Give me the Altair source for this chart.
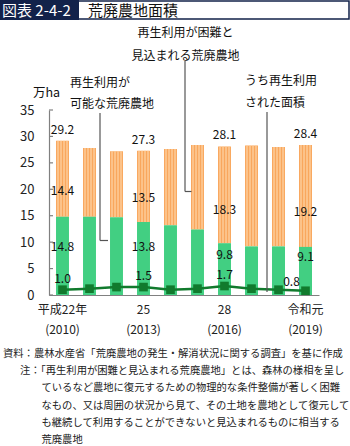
import altair as alt
import pandas as pd

# ---- data ----
years = [2010, 2011, 2012, 2013, 2014, 2015, 2016, 2017, 2018, 2019]
possible = [14.8, 14.8, 14.7, 13.8, 13.2, 12.4, 9.8, 9.2, 9.2, 9.1]      # 再生利用が可能な荒廃農地
hard = [14.4, 13.0, 12.5, 13.5, 14.4, 16.0, 18.3, 19.1, 18.8, 19.2]      # 再生利用が困難と見込まれる荒廃農地
totals = [29.2, 27.8, 27.2, 27.3, 27.6, 28.4, 28.1, 28.3, 28.0, 28.4]
reused = [1.0, 1.2, 1.5, 1.5, 1.0, 1.2, 1.7, 1.2, 1.0, 0.8]              # うち再生利用された面積
label_years = [2010, 2013, 2016, 2019]
era_labels = ["平成22年", "25", "28", "令和元"]
ad_labels = ["(2010)", "(2013)", "(2016)", "(2019)"]
y_ticks = [0, 5, 10, 15, 20, 25, 30, 35]

notes = [
    "資料：農林水産省「荒廃農地の発生・解消状況に関する調査」を基に作成",
    "注：「再生利用が困難と見込まれる荒廃農地」とは、森林の様相を呈し",
    "ているなど農地に復元するための物理的な条件整備が著しく困難",
    "なもの、又は周囲の状況から見て、その土地を農地として復元して",
    "も継続して利用することができないと見込まれるものに相当する",
    "荒廃農地",
]

FONT = "Noto Sans CJK JP"
ORANGE = "#F9A75D"
STRIPE = "#FDD2A2"
GREEN = "#42CF82"
DKGREEN = "#117A2D"
NAVY = "#12224A"
AXIS = "#808080"

df = pd.DataFrame({"year": years, "possible": possible, "hard": hard,
                   "total": totals, "reused": reused})
df["hard_lab"] = df["possible"] + df["hard"] * 0.34
df["pos_lab"] = (df["possible"] * 0.78).clip(upper=9.1)
lab = df[df["year"].isin(label_years)]

# x axis label expression built from arrays
expr = "''"
for yv, e, a in zip(reversed(label_years), reversed(era_labels), reversed(ad_labels)):
    expr = f"datum.value == {yv} ? ['{e}', '{a}'] : ({expr})"

xscale = alt.Scale(paddingInner=0.52, paddingOuter=0.26)
yscale = alt.Scale(domain=[0, 35], nice=False)

Xax = alt.Axis(values=label_years, labelExpr=expr, title=None, labelAngle=0,
               tickSize=0, labelPadding=9, labelFontSize=12, labelLineHeight=20,
               labelFont=FONT, labelColor="#222", domainColor=AXIS, domainWidth=1.2)
Yax = alt.Axis(values=y_ticks, title=None, tickSize=0, labelPadding=15, labelFontSize=13,
               labelFont=FONT, labelColor="#222", domainColor=AXIS, domainWidth=1.2,
               grid=False, labelOverlap=False, labelFlush=False)

def X():
    return alt.X("year:O", scale=xscale, axis=Xax)

def Y(f):
    return alt.Y(f, scale=yscale, axis=Yax)

base = alt.Chart(df)

orange = base.mark_bar(color=ORANGE).encode(x=X(), y=Y("possible:Q"), y2="total:Q")
stripes = [base.mark_bar(color=STRIPE, width=1.3, xOffset=o).encode(
    x=X(), y=Y("possible:Q"), y2="total:Q") for o in (-4.5, -1.5, 1.5, 4.5)]
green = base.mark_bar(color=GREEN).encode(x=X(), y=Y("possible:Q"))

line = base.mark_line(color=DKGREEN, strokeWidth=2.5).encode(x=X(), y=Y("reused:Q"))
pts = base.mark_square(color=DKGREEN, size=75, opacity=1).encode(x=X(), y=Y("reused:Q"))

tstyle = dict(font=FONT, fontSize=12, color="#111")
tot_lab = alt.Chart(lab).mark_text(dy=-11, **tstyle).encode(
    x=X(), y=Y("total:Q"), text=alt.Text("total:Q", format=".1f"))
hard_lab = alt.Chart(lab).mark_text(**tstyle).encode(
    x=X(), y=Y("hard_lab:Q"), text=alt.Text("hard:Q", format=".1f"))
pos_lab = alt.Chart(lab).mark_text(**tstyle).encode(
    x=X(), y=Y("pos_lab:Q"), text=alt.Text("possible:Q", format=".1f"))
re_lab1 = alt.Chart(lab[lab["year"] != 2019]).mark_text(dy=-11, **tstyle).encode(
    x=X(), y=Y("reused:Q"), text=alt.Text("reused:Q", format=".1f"))
re_lab2 = alt.Chart(lab[lab["year"] == 2019]).mark_text(dy=-9, dx=-14, **tstyle).encode(
    x=X(), y=Y("reused:Q"), text=alt.Text("reused:Q", format=".1f"))

ticks = alt.Chart(pd.DataFrame({"t": y_ticks})).mark_rule(color=AXIS, strokeWidth=1.2).encode(
    y=Y("t:Q"), x=alt.value(0), x2=alt.value(4))

one = pd.DataFrame({"a": [0]})
dummy = alt.Chart(one)

def rule(x1, y1, x2, y2, color="#555", w=1.2):
    return dummy.mark_rule(color=color, strokeWidth=w).encode(
        x=alt.value(x1), y=alt.value(y1), x2=alt.value(x2), y2=alt.value(y2))

def text(s, x, y, size=12, align="left", color="#111", weight="normal"):
    return dummy.mark_text(text=s, font=FONT, fontSize=size, align=align,
                           baseline="middle", color=color, fontWeight=weight).encode(
        x=alt.value(x), y=alt.value(y))

OX, OY = 49, 110  # plot origin in page pixels

leaders = [
    rule(100 - OX, 113 - OY, 100 - OX, 240.5 - OY),
    rule(100 - OX, 240.5 - OY, 108 - OX, 240.5 - OY),
    rule(185 - OX, 61 - OY, 185 - OX, 191.5 - OY),
    rule(185 - OX, 191.5 - OY, 191.5 - OX, 191.5 - OY),
    rule(267 - OX, 112 - OY, 267 - OX, 292 - OY),
]

annots = [
    text("再生利用が困難と", 185.5 - OX, 33 - OY, align="center"),
    text("見込まれる荒廃農地", 185.5 - OX, 56 - OY, align="center"),
    text("再生利用が", 70 - OX, 82.5 - OY),
    text("可能な荒廃農地", 70 - OX, 103.5 - OY),
    text("うち再生利用", 245 - OX, 81 - OY),
    text("された面積", 245 - OX, 103 - OY),
    text("万ha", 33 - OX, 93 - OY, size=12.5),
]

# title bar
title_layers = [
    dummy.mark_rect(color="white", stroke=NAVY, strokeWidth=1.5).encode(
        x=alt.value(78 - OX), x2=alt.value(349 - OX), y=alt.value(1 - OY), y2=alt.value(19 - OY)),
    dummy.mark_rect(color=NAVY).encode(
        x=alt.value(0 - OX), x2=alt.value(79 - OX), y=alt.value(0 - OY), y2=alt.value(20 - OY)),
    text("図表 2-4-2", 2 - OX, 11 - OY, size=15, color="white"),
    text("荒廃農地面積", 88 - OX, 11 - OY, size=15, color="#111"),
]

note_layers = []
for i, s in enumerate(notes):
    xpos = 3 if i == 0 else (20 if i == 1 else 41.5)
    note_layers.append(text(s, xpos - OX, 354 + 17.2 * i - OY, size=10.3, color="#222"))

chart = alt.layer(
    orange, *stripes, green, line, pts, tot_lab, hard_lab, pos_lab, re_lab1, re_lab2,
    ticks, *leaders, *annots, *title_layers, *note_layers
).properties(
    width=270, height=185,
    autosize=alt.AutoSizeParams(type="none"),
    padding={"left": OX, "top": OY, "right": 31, "bottom": 151},
    background="white",
).configure_view(stroke=None)

chart.save("out.html", embed_options={"renderer": "svg", "actions": False})
